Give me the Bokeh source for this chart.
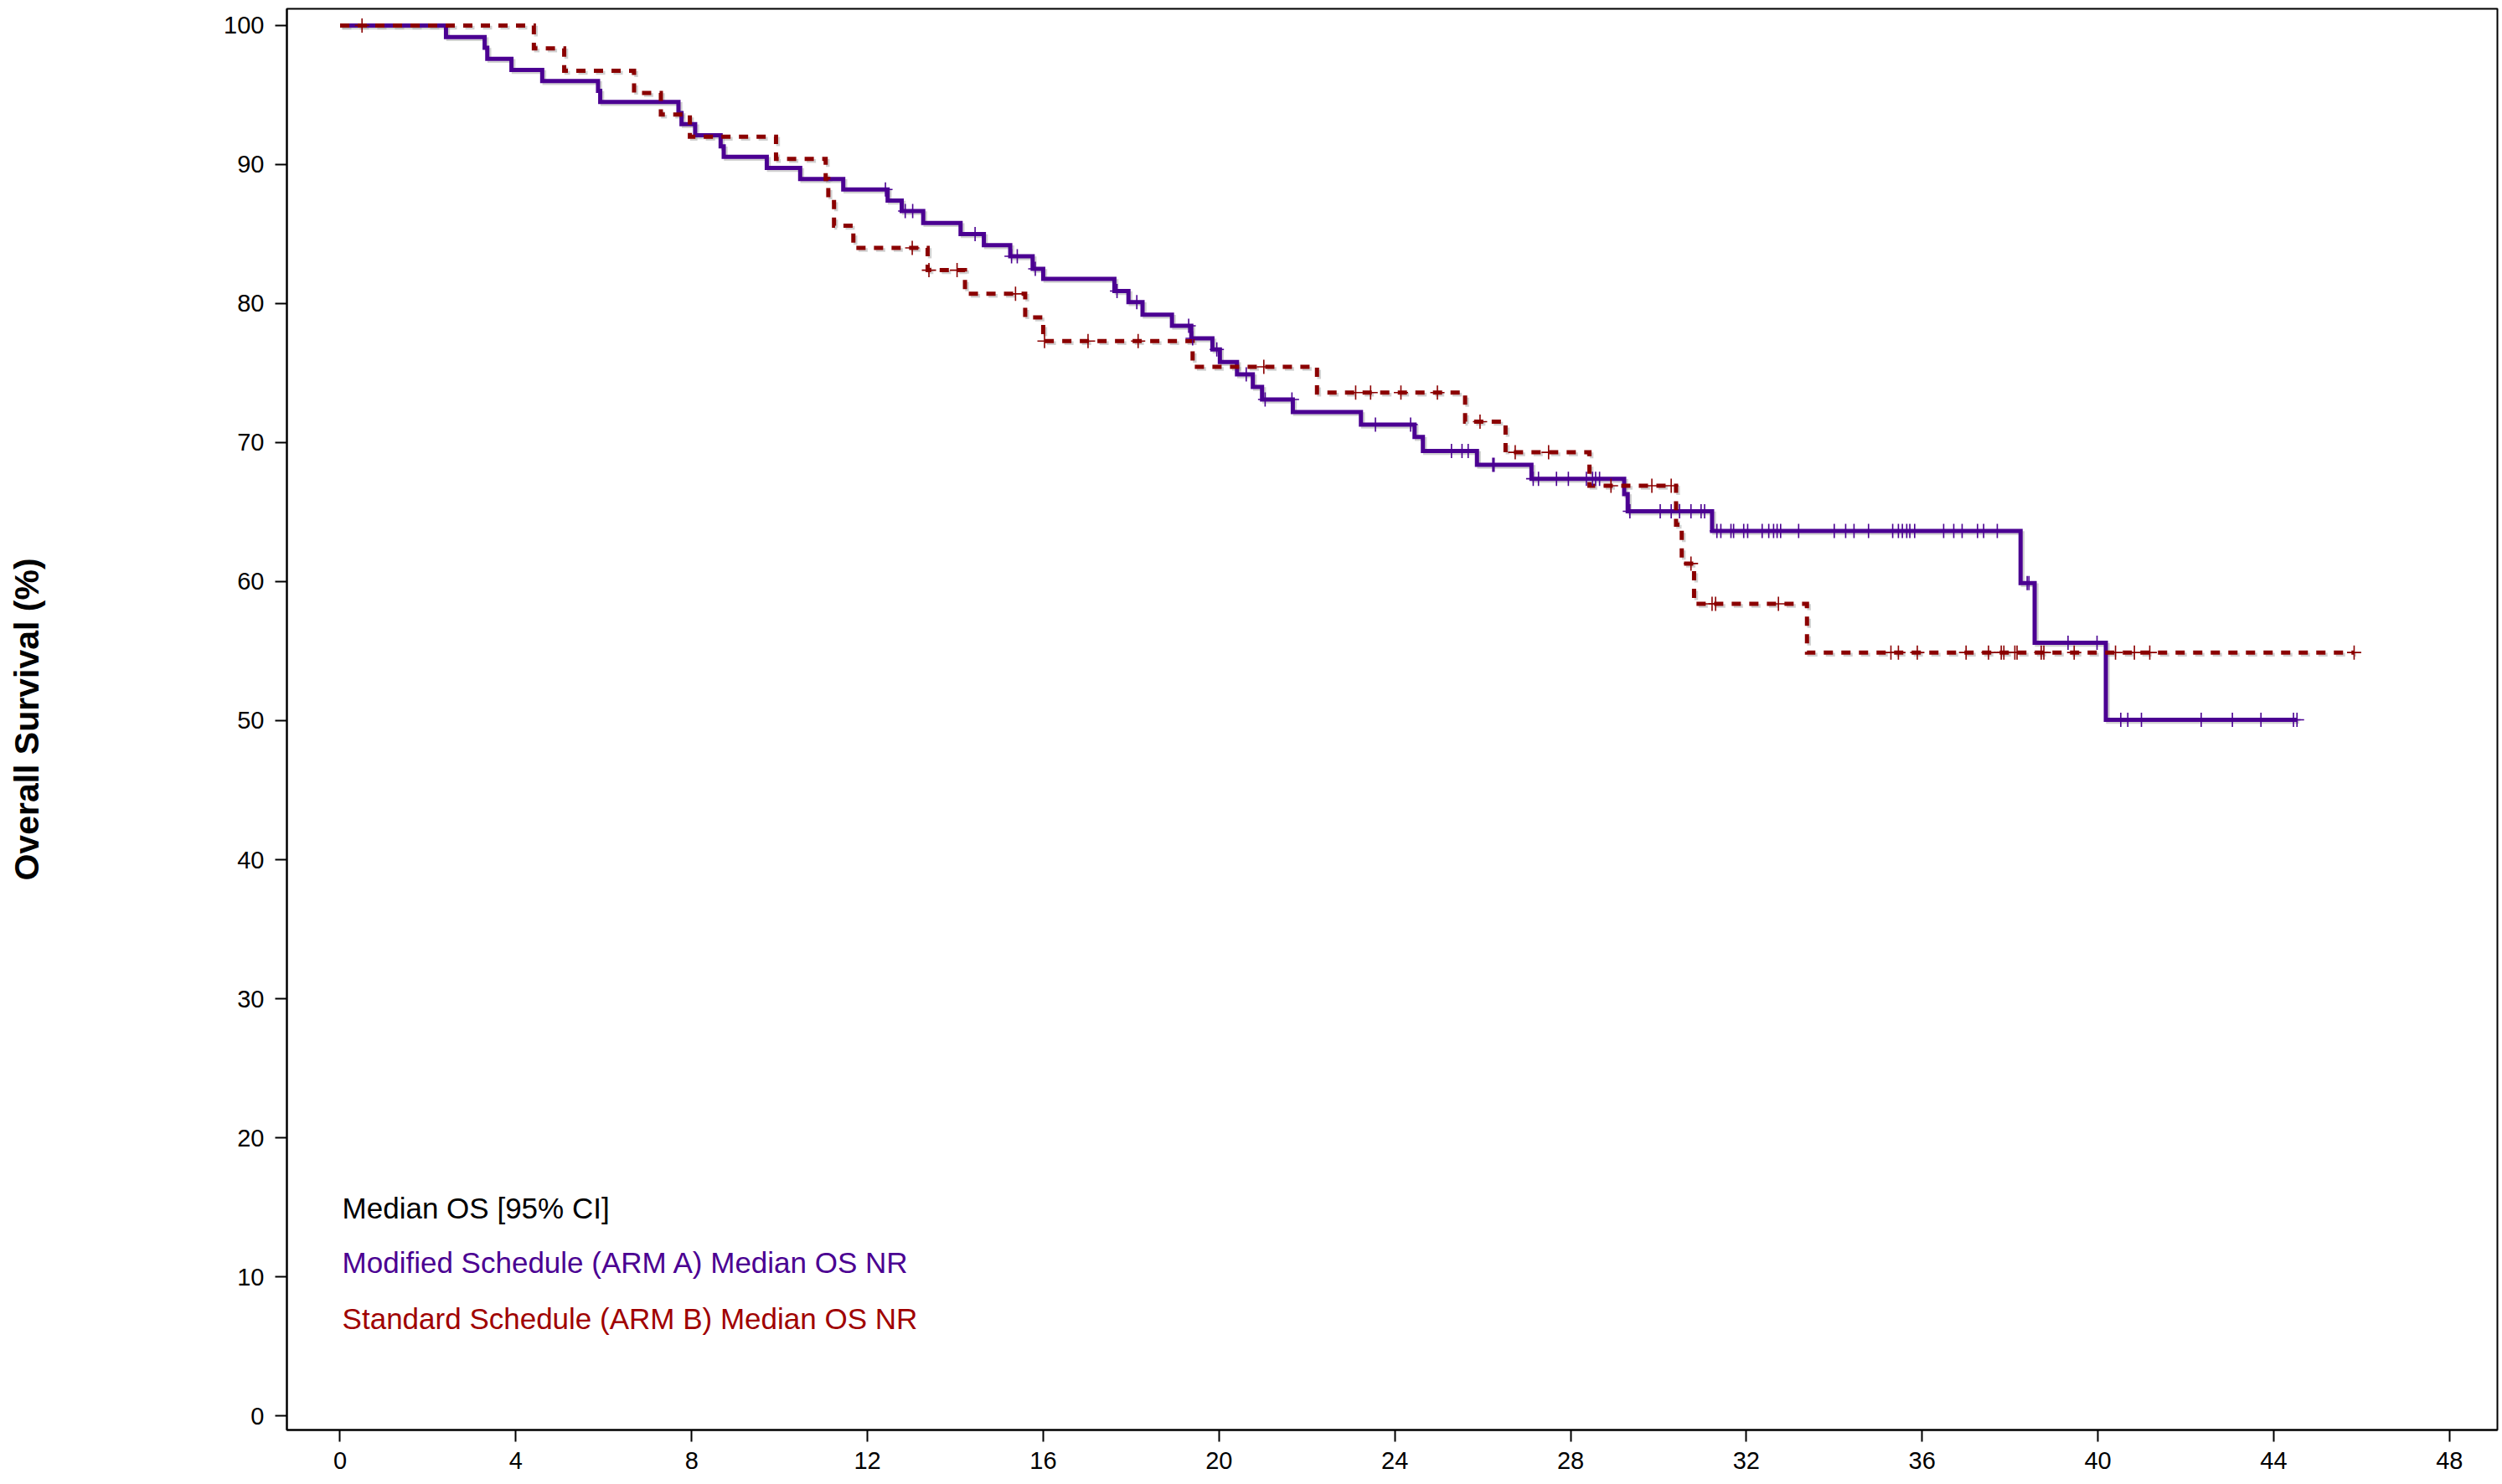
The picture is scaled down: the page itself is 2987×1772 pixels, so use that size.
import numpy as np
from bokeh.plotting import figure
from bokeh.models import Range1d, FixedTicker
from bokeh.core.properties import value
from bokeh.embed import file_html
from bokeh.resources import INLINE

# ---------------- data ----------------
# ARM A: Modified Schedule  (event times in months, survival % after the event)
arm_a_time = [0, 2.41, 3.29, 3.35, 3.90, 4.60, 5.87, 5.92, 7.70, 7.77, 8.08, 8.66, 8.73,
              9.71, 10.47, 11.45, 12.46, 12.78, 13.27, 14.12, 14.65, 15.25, 15.76, 16.00,
              17.62, 17.94, 18.26, 18.93, 19.37, 19.85, 20.02, 20.41, 20.77, 20.98, 21.68,
              23.23, 24.45, 24.64, 25.87, 27.11, 29.22, 29.30, 31.22, 38.24, 38.56, 40.18]
arm_a_surv = [100, 99.16, 98.4, 97.6, 96.8, 96.0, 95.3, 94.5, 93.7, 92.9, 92.1, 91.3, 90.55,
              89.76, 88.96, 88.2, 87.4, 86.65, 85.8, 85.0, 84.2, 83.4, 82.5, 81.77,
              80.9, 80.1, 79.2, 78.4, 77.5, 76.7, 75.8, 74.9, 74.0, 73.1, 72.2,
              71.3, 70.4, 69.4, 68.4, 67.4, 66.3, 65.06, 63.65, 59.9, 55.6, 50.06]
arm_a_last = 44.53
arm_a_censor = [12.41, 12.86, 13.03, 14.45, 15.28, 15.41, 15.82, 17.68, 18.13, 19.31, 19.40,
                19.95, 20.62, 21.05, 21.66, 23.56, 24.36, 25.29, 25.53, 25.67, 26.23, 26.26,
                27.15, 27.27, 27.68, 27.95, 28.36, 28.50, 28.57, 28.66, 29.35, 30.04, 30.29,
                30.48, 30.74, 30.97, 31.05, 31.33, 31.42, 31.65, 31.71, 31.94, 32.03, 32.36,
                32.51, 32.62, 32.70, 32.78, 33.19, 34.00, 34.26, 34.45, 34.78, 35.33, 35.46,
                35.55, 35.65, 35.72, 35.83, 36.49, 36.72, 36.91, 37.26, 37.40, 37.71, 38.39,
                38.43, 39.32, 39.98, 40.52, 40.68, 40.99, 42.35, 43.06, 43.71, 44.45, 44.53]

# ARM B: Standard Schedule
arm_b_time = [0, 4.41, 5.10, 6.69, 7.30, 7.96, 9.92, 11.05, 11.11, 11.24, 11.68, 13.37,
              14.22, 15.59, 16.00, 19.40, 22.23, 25.60, 26.52, 28.43, 30.40, 30.53, 30.81, 33.38]
arm_b_surv = [100, 98.35, 96.75, 95.15, 93.6, 92.0, 90.4, 88.96, 87.3, 85.6, 84.0, 82.4,
              80.7, 79.0, 77.3, 75.45, 73.6, 71.5, 69.3, 66.9, 64.1, 61.3, 58.4, 54.9]
arm_b_last = 45.83
arm_b_censor = [0.5, 13.02, 13.40, 14.04, 15.37, 16.03, 17.02, 18.16, 21.02, 23.11, 23.45,
                24.14, 24.97, 25.94, 26.74, 27.50, 28.92, 29.85, 30.29, 30.74, 31.22, 31.30,
                32.73, 35.29, 35.46, 35.89, 37.00, 37.51, 37.80, 37.86, 38.11, 38.16, 38.71,
                38.77, 39.46, 40.40, 40.83, 41.18, 45.83]

x_ticks = [0, 4, 8, 12, 16, 20, 24, 28, 32, 36, 40, 44, 48]
y_ticks = [0, 10, 20, 30, 40, 50, 60, 70, 80, 90, 100]

notes = ["Median OS [95% CI]",
         "Modified Schedule (ARM A) Median OS NR",
         "Standard Schedule (ARM B) Median OS NR"]

# ---------------- styling ----------------
PURPLE = "#4B0092"
RED = "#8B0000"
RED_TEXT = "#A00000"
FONT = "Liberation Sans"

W, H = 2984, 1768
BL, BR, BT, BB = 342, 3, 10, 61
x0, x1 = -1.21, 49.09
y0, y1 = -1.02, 101.2

p = figure(width=W, height=H, x_range=Range1d(x0, x1), y_range=Range1d(y0, y1),
           output_backend="svg", toolbar_location=None,
           min_border_left=BL, min_border_right=BR, min_border_top=BT, min_border_bottom=BB)
p.background_fill_color = "white"
p.border_fill_color = "white"
p.outline_line_color = "black"
p.outline_line_width = 2
p.grid.visible = False

for ax in (p.xaxis[0], p.yaxis[0]):
    ax.axis_line_width = 2
    ax.axis_line_color = "black"
    ax.major_tick_line_width = 2
    ax.major_tick_line_color = "black"
    ax.major_tick_out = 14
    ax.major_tick_in = 0
    ax.minor_tick_out = 0
    ax.minor_tick_in = 0
    ax.major_label_text_font = FONT
    ax.major_label_text_font_size = "29px"
    ax.major_label_text_color = "black"

p.xaxis.ticker = FixedTicker(ticks=x_ticks)
p.yaxis.ticker = FixedTicker(ticks=y_ticks)
p.xaxis.major_label_standoff = 12
p.yaxis.major_label_standoff = 13
p.yaxis.axis_label = "Overall Survival (%)"
p.yaxis.axis_label_text_font = FONT
p.yaxis.axis_label_text_font_style = "bold"
p.yaxis.axis_label_text_font_size = "41px"
p.yaxis.axis_label_text_color = "black"
p.yaxis.axis_label_standoff = 209

# shadow offset (pixels -> data units)
fw = W - BL - BR
fh = H - BT - BB
sdx = 2.5 * (x1 - x0) / fw
sdy = -2.5 * (y1 - y0) / fh


def curve(times, surv, last):
    xs = list(times) + [last]
    ys = list(surv) + [surv[-1]]
    return np.array(xs, dtype=float), np.array(ys, dtype=float)


def at(times, surv, ts):
    idx = np.searchsorted(np.array(times), np.array(ts), side="right") - 1
    return np.array(surv)[idx]


ax_, ay_ = curve(arm_a_time, arm_a_surv, arm_a_last)
bx_, by_ = curve(arm_b_time, arm_b_surv, arm_b_last)

# shadows
p.step(ax_ + sdx, ay_ + sdy, mode="after", line_color="#9a9a9a", line_alpha=0.45,
       line_width=4.5, line_join="miter")
p.step(bx_ + sdx, by_ + sdy, mode="after", line_color="#9a9a9a", line_alpha=0.45,
       line_width=4.5, line_dash="11 10", line_join="miter")

# ARM A (solid purple)
p.step(ax_, ay_, mode="after", line_color=PURPLE, line_width=5, line_join="miter")
# ARM B (dashed red)
p.step(bx_, by_, mode="after", line_color=RED, line_width=5, line_dash="11 10",
       line_join="miter")

# censor marks
p.scatter(arm_a_censor, at(arm_a_time, arm_a_surv, arm_a_censor), marker="cross",
          size=17, line_color=PURPLE, line_width=1.6, fill_alpha=0)
p.scatter(arm_b_censor, at(arm_b_time, arm_b_surv, arm_b_censor), marker="cross",
          size=17, line_color=RED, line_width=1.6, fill_alpha=0)

# annotation block
note_x = [0.05, 0.05, 0.05]
note_y = [14.95, 11.05, 7.02]
p.text(x=note_x, y=note_y, text=notes, text_color=["black", PURPLE, RED_TEXT],
       text_font=value(FONT), text_font_size="35px", text_baseline="alphabetic",
       text_align="left")

open("out.html", "w").write(file_html(p, INLINE))
